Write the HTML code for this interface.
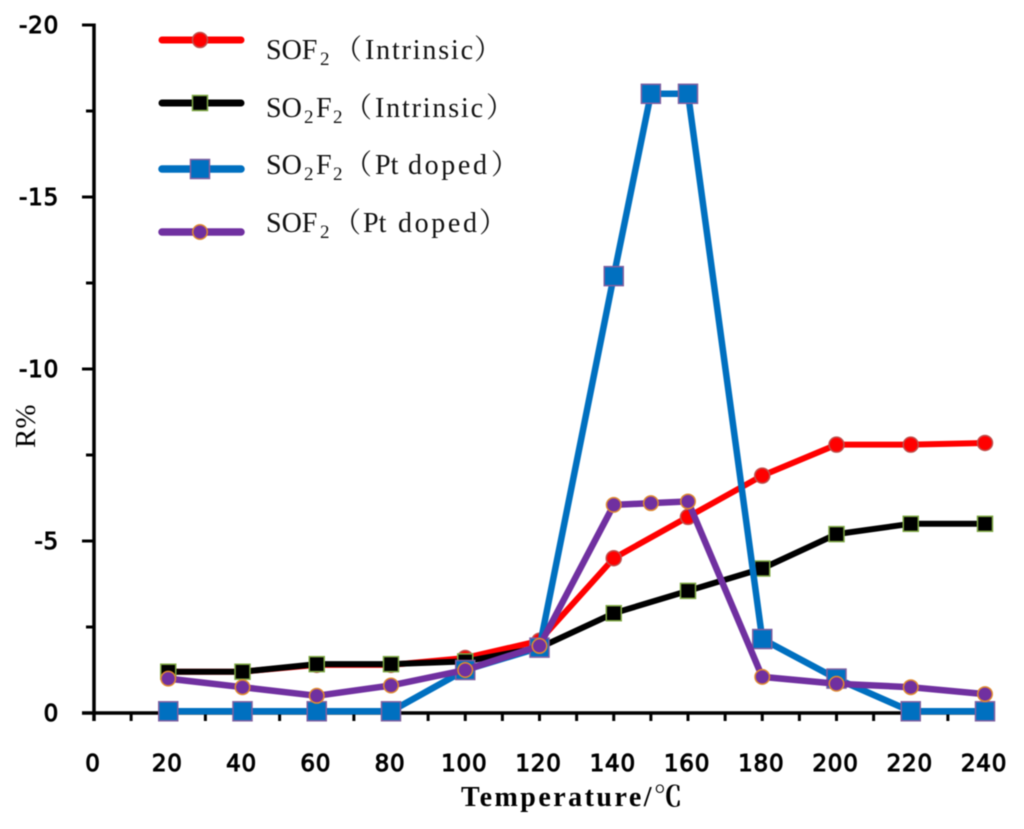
<!DOCTYPE html>
<html>
<head>
<meta charset="utf-8">
<style>
html,body{margin:0;padding:0;background:#fff;}
svg{display:block;filter:blur(0.45px);}
.tick{font-family:"DejaVu Sans",sans-serif;font-size:23px;letter-spacing:0.8px;fill:#000;stroke:#000;stroke-width:1px;}
.leg{font-family:"Liberation Serif","Noto Serif CJK SC",serif;font-size:28px;fill:#111;}
.sub{font-size:19px;}
.ttl{font-family:"Liberation Serif","Noto Serif CJK SC",serif;font-weight:bold;fill:#000;}
</style>
</head>
<body>
<svg id="chart" xmlns="http://www.w3.org/2000/svg" width="1024" height="829" viewBox="0 0 1024 829">
  <g id="axes"></g>
  <g id="series"></g>
  <g id="legend">
    <text class="leg" y="59"><tspan x="266">SOF</tspan><tspan x="320" dy="6" class="sub">2</tspan><tspan x="334" dy="-6">（</tspan><tspan x="365" textLength="108">Intrinsic</tspan><tspan x="474">）</tspan></text>
    <text class="leg" y="117"><tspan x="266">SO</tspan><tspan x="304" dy="6" class="sub">2</tspan><tspan x="316" dy="-6">F</tspan><tspan x="333" dy="6" class="sub">2</tspan><tspan x="344" dy="-6">（</tspan><tspan x="375" textLength="108">Intrinsic</tspan><tspan x="486">）</tspan></text>
    <text class="leg" y="174"><tspan x="266">SO</tspan><tspan x="304" dy="6" class="sub">2</tspan><tspan x="316" dy="-6">F</tspan><tspan x="333" dy="6" class="sub">2</tspan><tspan x="344" dy="-6">（</tspan><tspan x="375">Pt</tspan><tspan x="408" textLength="79">doped</tspan><tspan x="491">）</tspan></text>
    <text class="leg" y="232"><tspan x="266">SOF</tspan><tspan x="320" dy="6" class="sub">2</tspan><tspan x="333" dy="-6">（</tspan><tspan x="363">Pt</tspan><tspan x="398" textLength="79">doped</tspan><tspan x="479">）</tspan></text>
  </g>
  <text class="ttl" x="461" y="806" font-size="28" textLength="221">Temperature/℃</text>
  <text class="ttl" style="font-weight:normal" font-size="29" transform="translate(35,448) rotate(-90)">R%</text>
</svg>
<script>
var xTickLabels = [0,20,40,60,80,100,120,140,160,180,200,220,240];
var yTickLabels = [0,-5,-10,-15,-20];
var tempsA = [20,40,60,80,100,120,140,160,180,200,220,240];
var tempsB = [20,40,60,80,100,120,140,150,160,180,200,220,240];
var sof2Intrinsic = [1.2,1.2,1.4,1.4,1.6,2.1,4.5,5.7,6.9,7.8,7.8,7.85];
var so2f2Intrinsic = [1.2,1.2,1.42,1.42,1.5,1.9,2.9,3.55,4.2,5.2,5.5,5.5];
var so2f2Pt = [0.05,0.05,0.05,0.05,1.25,1.9,12.7,18,18,2.15,1.0,0.05,0.05];
var sof2Pt = [1.0,0.75,0.5,0.8,1.25,1.95,6.05,6.1,6.15,1.05,0.85,0.75,0.55];

var NS = 'http://www.w3.org/2000/svg';
function X(v){ return 94 + v * 3.7125; }
function Y(v){ return 713 - v * 34.4; }
function mk(tag, parent, attrs){
  var e = document.createElementNS(NS, tag);
  for (var k in attrs) e.setAttribute(k, attrs[k]);
  parent.appendChild(e);
  return e;
}
var axes = document.getElementById('axes');
var xAxisLine = mk('line', axes, {x1:X(0)-12,y1:Y(0),x2:X(240),y2:Y(0),stroke:'#000','stroke-width':3.5});


var yAxisLine = mk('line', axes, {x1:X(0),y1:Y(20)-1.5,x2:X(0),y2:Y(0)+8,stroke:'#000','stroke-width':3.5});


for (var t = 0; t <= 240; t += 10) {
  var xt = mk('line', axes, {x1:X(t),y1:Y(0),x2:X(t),y2:Y(0)+8,stroke:'#000','stroke-width':3});
  
  
}
for (var u = 0; u <= 20; u += 2.5) {
  var major = (u % 5 === 0);
  var yt = mk('line', axes, {x1:X(0)-(major?12:8),y1:Y(u),x2:X(0),y2:Y(u),stroke:'#000','stroke-width':3});
  
  
}
xTickLabels.forEach(function(v){
  var lb = mk('text', axes, {x:X(v)-1,y:771,'text-anchor':'middle','class':'tick'});
  
  
  lb.textContent = v;
});
yTickLabels.forEach(function(v){
  var lb = mk('text', axes, {x:59,y:Y(-v)+8,'text-anchor':'end','class':'tick'});
  
  
  lb.textContent = v;
});

function marker(parent, kind, cx, cy, fill, edge, size){
  var m;
  if (kind === 'circle') {
    m = mk('circle', parent, {cx:cx,cy:cy,r:size/2,fill:fill,stroke:edge,'stroke-width':1.5});
  } else {
    m = mk('rect', parent, {x:cx-size/2,y:cy-size/2,width:size,height:size,fill:fill,stroke:edge,'stroke-width':1.5});
  }
  return m;
}
var seriesRoot = document.getElementById('series');
var legendRoot = document.getElementById('legend');
function drawSeries(name, xs, ys, color, width, kind, fill, edge, size, legendY){
  var g = mk('g', seriesRoot, {});
  
  
  var pts = xs.map(function(x,i){ return X(x)+','+Y(ys[i]); }).join(' ');
  var line = mk('polyline', g, {points:pts,fill:'none',stroke:color,'stroke-width':width,'stroke-linejoin':'round'});
  
  
  xs.forEach(function(x,i){
    var m = marker(g, kind, X(x), Y(ys[i]), fill, edge, size);
    
    
  });
  var ll = mk('line', legendRoot, {x1:162,y1:legendY,x2:241,y2:legendY,stroke:color,'stroke-width':width+1,'stroke-linecap':'round'});
  
  
  var lm = marker(legendRoot, kind, 200, legendY, fill, edge, size);
  
  
}
drawSeries('series-sof2-intrinsic', tempsA, sof2Intrinsic, '#ff0000', 6, 'circle', '#ff0000', '#c0504d', 15, 40);
drawSeries('series-so2f2-intrinsic', tempsA, so2f2Intrinsic, '#000000', 6, 'rect', '#000000', '#7fa844', 15, 103);
drawSeries('series-so2f2-pt-doped', tempsB, so2f2Pt, '#0070c0', 6.5, 'rect', '#0070c0', '#7f5fa0', 19, 169);
drawSeries('series-sof2-pt-doped', tempsB, sof2Pt, '#7030a0', 6.5, 'circle', '#7030a0', '#e08a30', 14.5, 232);
</script>
</body>
</html>
